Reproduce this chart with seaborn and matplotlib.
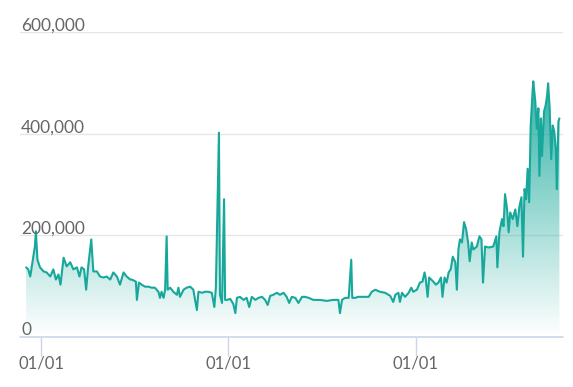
import numpy as np
import pandas as pd
import matplotlib
matplotlib.use("Agg")
import matplotlib.pyplot as plt
import matplotlib.dates as mdates
import matplotlib.transforms as mtransforms
from matplotlib.colors import LinearSegmentedColormap
import seaborn as sns

dates = [
    "2018-12-03", "2018-12-07", "2018-12-11", "2018-12-14", "2018-12-17", "2018-12-20", "2018-12-22",
    "2018-12-25", "2018-12-30", "2019-01-06", "2019-01-12", "2019-01-19", "2019-01-25", "2019-01-30",
    "2019-02-04", "2019-02-08", "2019-02-14", "2019-02-20", "2019-02-27", "2019-03-05", "2019-03-12",
    "2019-03-17", "2019-03-21", "2019-03-26", "2019-03-30", "2019-04-03", "2019-04-09", "2019-04-13",
    "2019-04-20", "2019-04-26", "2019-05-03", "2019-05-09", "2019-05-16", "2019-05-22", "2019-05-29",
    "2019-06-04", "2019-06-11", "2019-06-17", "2019-06-24", "2019-06-27", "2019-07-05", "2019-07-07",
    "2019-07-11", "2019-07-16", "2019-07-23", "2019-07-29", "2019-08-05", "2019-08-11", "2019-08-18",
    "2019-08-21", "2019-08-24", "2019-08-28", "2019-08-31", "2019-09-03", "2019-09-05", "2019-09-10",
    "2019-09-16", "2019-09-23", "2019-09-26", "2019-09-29", "2019-10-06", "2019-10-12", "2019-10-19",
    "2019-10-25", "2019-11-01", "2019-11-04", "2019-11-11", "2019-11-17", "2019-11-23", "2019-11-30",
    "2019-12-05", "2019-12-08", "2019-12-14", "2019-12-16", "2019-12-20", "2019-12-24", "2019-12-26",
    "2019-12-30", "2020-01-05", "2020-01-11", "2020-01-15", "2020-01-18", "2020-01-24", "2020-01-31",
    "2020-02-06", "2020-02-11", "2020-02-16", "2020-02-23", "2020-02-29", "2020-03-07", "2020-03-13",
    "2020-03-18", "2020-03-23", "2020-03-29", "2020-04-05", "2020-04-11", "2020-04-18", "2020-04-24",
    "2020-04-29", "2020-05-04", "2020-05-11", "2020-05-17", "2020-05-24", "2020-05-30", "2020-06-06",
    "2020-06-15", "2020-06-28", "2020-07-11", "2020-07-24", "2020-08-03", "2020-08-06", "2020-08-10",
    "2020-08-16", "2020-08-23", "2020-08-28", "2020-08-30", "2020-09-05", "2020-09-10", "2020-09-18",
    "2020-10-01", "2020-10-07", "2020-10-14", "2020-10-23", "2020-11-02", "2020-11-12", "2020-11-18",
    "2020-11-22", "2020-11-28", "2020-12-01", "2020-12-05", "2020-12-11", "2020-12-18", "2020-12-23",
    "2020-12-27", "2021-01-03", "2021-01-09", "2021-01-14", "2021-01-18", "2021-01-20", "2021-01-24",
    "2021-01-27", "2021-02-04", "2021-02-09", "2021-02-14", "2021-02-19", "2021-02-22", "2021-02-26",
    "2021-03-02", "2021-03-06", "2021-03-10", "2021-03-14", "2021-03-19", "2021-03-22", "2021-03-25",
    "2021-03-28", "2021-04-01", "2021-04-05", "2021-04-09", "2021-04-13", "2021-04-16", "2021-04-20",
    "2021-04-23", "2021-04-30", "2021-05-05", "2021-05-09", "2021-05-12", "2021-05-16", "2021-05-23",
    "2021-06-01", "2021-06-07", "2021-06-09", "2021-06-13", "2021-06-18", "2021-06-21", "2021-06-24",
    "2021-06-28", "2021-07-01", "2021-07-04", "2021-07-09", "2021-07-14", "2021-07-18", "2021-07-22",
    "2021-07-26", "2021-07-29", "2021-08-01", "2021-08-04", "2021-08-07", "2021-08-10", "2021-08-13",
    "2021-08-17", "2021-08-18", "2021-08-22", "2021-08-25", "2021-08-28", "2021-08-30", "2021-09-02",
    "2021-09-04", "2021-09-08", "2021-09-11", "2021-09-14", "2021-09-16", "2021-09-19", "2021-09-22",
    "2021-09-25", "2021-09-28", "2021-10-01", "2021-10-03", "2021-10-06", "2021-10-08",
]

values = [
    137000, 133000, 119000, 139000, 158000, 178000, 208000,
    152000, 137000, 129000, 127000, 119000, 133000, 113000,
    123000, 103000, 156000, 139000, 147000, 133000, 137000,
    119000, 137000, 133000, 93000, 139000, 192000, 129000,
    129000, 119000, 117000, 119000, 113000, 127000, 119000,
    103000, 127000, 119000, 113000, 113000, 109000, 73000,
    107000, 103000, 99000, 99000, 97000, 97000, 89000,
    77000, 89000, 77000, 93000, 198000, 93000, 97000,
    89000, 83000, 97000, 79000, 93000, 97000, 99000,
    93000, 53000, 89000, 87000, 89000, 89000, 87000,
    59000, 97000, 402000, 83000, 67000, 271000, 73000,
    73000, 75000, 65000, 47000, 77000, 79000, 73000,
    77000, 59000, 79000, 73000, 77000, 79000, 73000,
    63000, 81000, 83000, 87000, 83000, 87000, 79000,
    67000, 79000, 77000, 67000, 79000, 79000, 77000,
    73000, 73000, 71000, 73000, 73000, 47000, 73000,
    77000, 77000, 152000, 77000, 77000, 79000, 79000,
    79000, 89000, 93000, 89000, 87000, 81000, 69000,
    83000, 87000, 69000, 87000, 79000, 87000, 97000,
    89000, 93000, 107000, 109000, 127000, 117000, 79000,
    117000, 109000, 103000, 107000, 117000, 79000, 117000,
    107000, 127000, 133000, 158000, 147000, 93000, 172000,
    192000, 186000, 226000, 212000, 186000, 149000, 186000,
    172000, 178000, 198000, 192000, 107000, 178000, 176000,
    178000, 198000, 137000, 206000, 232000, 218000, 281000,
    251000, 206000, 245000, 232000, 251000, 218000, 257000,
    275000, 158000, 291000, 271000, 331000, 265000, 416000,
    489000, 503000, 463000, 410000, 450000, 317000, 430000,
    356000, 444000, 455000, 475000, 499000, 450000, 350000,
    416000, 404000, 370000, 291000, 424000, 430000,
]

y_ticks = [0, 200000, 400000, 600000]
x_ticks = ["2019-01-01", "2020-01-01", "2021-01-01"]
x_range = ["2018-11-21", "2021-10-15"]

line_color = "#17a89b"
grid_color = "#e6e6e6"
axis_color = "#ccd6eb"
text_color = "#666666"

df = pd.DataFrame({"date": pd.to_datetime(dates), "value": values})

sns.set_theme(style="white")
plt.rcParams["font.family"] = ["Lato", "DejaVu Sans"]

fig = plt.figure(figsize=(5.73, 3.87), dpi=100)
ax = fig.add_axes([20 / 573, 1 - 337 / 387, 543 / 573, 305 / 387])
ax.set_xlim(pd.to_datetime(x_range[0]), pd.to_datetime(x_range[1]))
ax.set_ylim(0, y_ticks[-1])

# gradient fill under the line
poly = ax.fill_between(df["date"], 0, df["value"], color="none", lw=0)
cmap = LinearSegmentedColormap.from_list(
    "g", [(0.09, 0.66, 0.61, 0.0), (0.09, 0.66, 0.61, 0.92)])
grad = np.linspace(0, 1, 256).reshape(-1, 1)
x0, x1 = ax.get_xlim()
im = ax.imshow(grad, cmap=cmap, aspect="auto", origin="lower",
               extent=[x0, x1, 0, 520000], zorder=1)
path = poly.get_paths()[0]
im.set_clip_path(path, transform=ax.transData)
ax.set_xlim(x0, x1)
ax.set_ylim(0, y_ticks[-1])

sns.lineplot(data=df, x="date", y="value", ax=ax, color=line_color,
             linewidth=1.5, zorder=3)

# grid
for yt in y_ticks[1:]:
    ax.axhline(yt, color=grid_color, lw=1, zorder=0)
ax.axhline(0, color=axis_color, lw=1.2, zorder=4, clip_on=False)

for s in ax.spines.values():
    s.set_visible(False)

ax.set_xlabel("")
ax.set_ylabel("")
ax.set_yticks([])
ax.set_xticks(pd.to_datetime(x_ticks))
ax.xaxis.set_major_formatter(mdates.DateFormatter("%m/%d"))
ax.tick_params(axis="x", length=14, width=1, color=axis_color, colors=text_color,
               labelsize=12, pad=-1, direction="out", bottom=True)
for lbl in ax.get_xticklabels():
    lbl.set_color(text_color)

trans = mtransforms.blended_transform_factory(ax.transAxes, ax.transData)
for yt in y_ticks:
    ax.text(0.002, yt + 3000, f"{yt:,}", transform=trans, ha="left", va="baseline",
            fontsize=12.5, color=text_color, zorder=5)

fig.savefig("out.png", dpi=100)
